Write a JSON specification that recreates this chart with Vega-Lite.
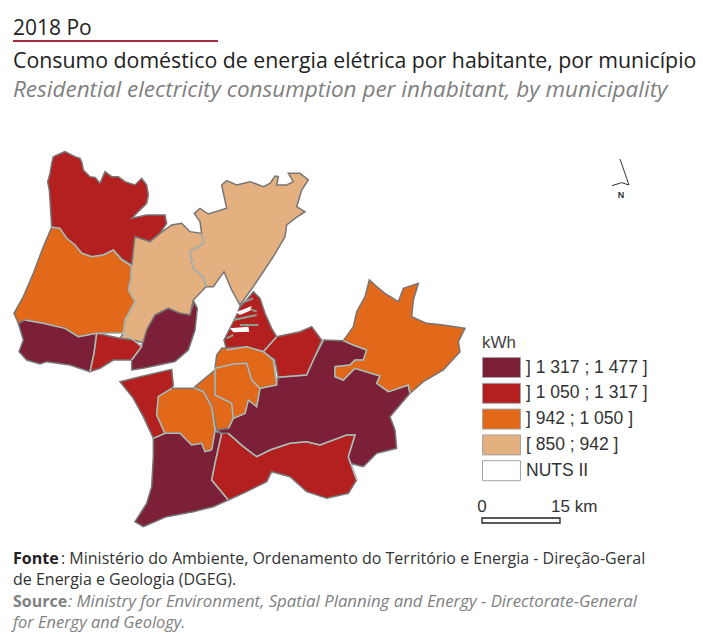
{"$schema":"https://vega.github.io/schema/vega-lite/v6.json","width":703,"height":634,"padding":0,"autosize":{"type":"none"},"background":"white","title":{"text":"Consumo doméstico de energia elétrica por habitante, por município","subtitle":"Residential electricity consumption per inhabitant, by municipality","anchor":"start","frame":"group","dx":13,"offset":-101,"font":"Open Sans","fontSize":21.3,"fontWeight":"normal","color":"#222222","subtitleFont":"Open Sans","subtitleFontSize":22.5,"subtitleFontStyle":"italic","subtitleColor":"#808080","subtitlePadding":6},"config":{"view":{"stroke":null}},"datasets":{"municipios":[
{"type":"Feature","properties":{"classe":"] 1 050 ; 1 317 ]"},"geometry":{"type":"Polygon","coordinates":[[[155,680],[148,570],[143,545],[150,520],[155,490],[160,470],[178,462],[195,455],[225,470],[240,475],[245,485],[250,510],[270,530],[285,532],[300,550],[315,515],[335,530],[355,530],[375,545],[405,555],[425,535],[440,555],[445,585],[440,610],[420,630],[395,655],[440,645],[495,645],[500,670],[480,700],[450,725],[405,710],[400,750],[395,795],[365,775],[340,750],[310,765],[275,770],[245,760],[225,735],[200,715],[180,685],[155,680]]]}},
{"type":"Feature","properties":{"classe":"] 942 ; 1 050 ]"},"geometry":{"type":"Polygon","coordinates":[[[155,682],[180,685],[200,715],[225,735],[245,760],[275,770],[310,765],[340,750],[365,780],[395,798],[392,840],[385,870],[405,905],[375,960],[370,1000],[290,1000],[235,1010],[195,985],[130,970],[75,960],[55,970],[42,940],[70,890],[100,820],[130,740],[155,682]]]}},
{"type":"Feature","properties":{"classe":"[ 850 ; 942 ]"},"geometry":{"type":"Polygon","coordinates":[[[405,710],[450,725],[480,700],[515,675],[545,670],[570,695],[605,700],[612,730],[570,755],[580,805],[610,830],[618,860],[580,900],[570,945],[540,940],[505,925],[465,945],[440,990],[435,1030],[400,1020],[360,1015],[370,1000],[375,960],[405,905],[385,870],[392,840],[395,798],[400,750],[405,710]]]}},
{"type":"Feature","properties":{"classe":"[ 850 ; 942 ]"},"geometry":{"type":"Polygon","coordinates":[[[605,700],[600,665],[583,640],[600,625],[625,642],[680,625],[665,555],[680,542],[710,555],[750,545],[790,560],[810,550],[825,528],[835,530],[830,555],[860,555],[880,545],[865,520],[900,520],[925,540],[905,570],[890,620],[915,635],[885,655],[860,675],[855,710],[820,770],[760,860],[720,915],[695,870],[672,815],[640,860],[618,860],[610,830],[580,805],[570,755],[612,730],[605,700]]]}},
{"type":"Feature","properties":{"classe":"] 1 317 ; 1 477 ]"},"geometry":{"type":"Polygon","coordinates":[[[75,960],[130,970],[195,985],[235,1010],[290,1000],[282,1060],[270,1115],[210,1095],[140,1085],[120,1092],[80,1080],[57,1055],[70,1020],[55,970],[75,960]]]}},
{"type":"Feature","properties":{"classe":"] 1 050 ; 1 317 ]"},"geometry":{"type":"Polygon","coordinates":[[[290,1000],[360,1015],[400,1020],[425,1040],[395,1080],[340,1080],[300,1105],[270,1115],[282,1060],[290,1000]]]}},
{"type":"Feature","properties":{"classe":"] 1 317 ; 1 477 ]"},"geometry":{"type":"Polygon","coordinates":[[[425,1040],[440,990],[465,945],[505,925],[540,940],[570,945],[582,905],[592,925],[585,990],[565,1050],[525,1085],[490,1092],[430,1105],[395,1110],[395,1080],[425,1040]]]}},
{"type":"Feature","properties":{"classe":"] 1 050 ; 1 317 ]"},"geometry":{"type":"Polygon","coordinates":[[[672,1020],[695,975],[710,945],[720,920],[740,900],[760,875],[780,895],[795,940],[815,985],[830,1010],[790,1055],[740,1040],[680,1050],[672,1020]]]}},
{"type":"Feature","properties":{"classe":"] 1 050 ; 1 317 ]"},"geometry":{"type":"Polygon","coordinates":[[[830,1010],[900,995],[935,980],[965,1020],[940,1080],[920,1125],[835,1132],[825,1080],[790,1055],[830,1010]]]}},
{"type":"Feature","properties":{"classe":"] 942 ; 1 050 ]"},"geometry":{"type":"Polygon","coordinates":[[[645,1105],[650,1065],[665,1045],[740,1040],[790,1055],[820,1080],[830,1155],[780,1165],[755,1140],[740,1090],[700,1092],[660,1105],[645,1105]]]}},
{"type":"Feature","properties":{"classe":"] 942 ; 1 050 ]"},"geometry":{"type":"Polygon","coordinates":[[[645,1105],[700,1092],[740,1090],[755,1140],[780,1165],[770,1220],[745,1200],[735,1240],[700,1255],[695,1210],[645,1185],[645,1160],[645,1105]]]}},
{"type":"Feature","properties":{"classe":"] 942 ; 1 050 ]"},"geometry":{"type":"Polygon","coordinates":[[[585,1160],[645,1110],[645,1185],[695,1210],[700,1255],[685,1285],[650,1290],[635,1215],[610,1175],[585,1160]]]}},
{"type":"Feature","properties":{"classe":"] 942 ; 1 050 ]"},"geometry":{"type":"Polygon","coordinates":[[[475,1190],[515,1165],[585,1165],[610,1175],[635,1220],[645,1290],[635,1350],[615,1355],[605,1330],[575,1335],[540,1300],[495,1300],[470,1245],[475,1190]]]}},
{"type":"Feature","properties":{"classe":"] 1 050 ; 1 317 ]"},"geometry":{"type":"Polygon","coordinates":[[[360,1145],[420,1130],[515,1108],[520,1155],[515,1165],[475,1190],[470,1245],[495,1300],[460,1315],[430,1250],[400,1195],[360,1145]]]}},
{"type":"Feature","properties":{"classe":"] 1 317 ; 1 477 ]"},"geometry":{"type":"Polygon","coordinates":[[[460,1315],[495,1300],[540,1300],[575,1335],[605,1330],[615,1355],[635,1350],[645,1295],[665,1300],[645,1390],[635,1440],[685,1500],[640,1520],[580,1535],[500,1550],[430,1580],[405,1565],[440,1510],[455,1460],[460,1370],[460,1315]]]}},
{"type":"Feature","properties":{"classe":"] 1 050 ; 1 317 ]"},"geometry":{"type":"Polygon","coordinates":[[[665,1300],[685,1300],[730,1340],[770,1370],[810,1350],[870,1330],[920,1325],[960,1335],[1040,1305],[1065,1305],[1045,1370],[1070,1440],[1045,1480],[980,1495],[920,1475],[870,1430],[815,1415],[800,1445],[740,1475],[685,1500],[635,1440],[645,1390],[665,1300]]]}},
{"type":"Feature","properties":{"classe":"] 1 317 ; 1 477 ]"},"geometry":{"type":"Polygon","coordinates":[[[685,1300],[665,1300],[650,1290],[685,1285],[700,1255],[735,1240],[745,1200],[770,1220],[780,1165],[830,1155],[835,1132],[920,1125],[940,1080],[970,1020],[1030,1022],[1060,1035],[1100,1050],[1090,1080],[1065,1080],[1050,1095],[1005,1100],[1005,1130],[1030,1140],[1065,1105],[1140,1128],[1130,1150],[1165,1175],[1225,1155],[1230,1180],[1170,1250],[1185,1290],[1190,1345],[1130,1360],[1090,1400],[1050,1390],[1045,1370],[1065,1305],[1040,1305],[960,1335],[920,1325],[870,1330],[810,1350],[770,1370],[730,1340],[685,1300]]]}},
{"type":"Feature","properties":{"classe":"] 942 ; 1 050 ]"},"geometry":{"type":"Polygon","coordinates":[[[1030,1022],[1060,980],[1070,935],[1095,890],[1108,840],[1130,860],[1155,880],[1195,905],[1210,865],[1255,850],[1240,900],[1235,950],[1280,970],[1330,975],[1395,985],[1375,1025],[1380,1055],[1330,1110],[1270,1145],[1230,1180],[1225,1155],[1165,1175],[1130,1150],[1140,1128],[1065,1105],[1030,1140],[1005,1130],[1005,1100],[1050,1095],[1065,1080],[1090,1080],[1100,1050],[1060,1035],[1030,1022]]]}}
],"limites":[
{"type":"Feature","properties":{"nome":"a"},"geometry":{"type":"MultiLineString","coordinates":[
[[155,682],[180,685],[200,715],[225,735],[245,760],[275,770],[310,765],[340,750],[365,780],[395,798],[392,840],[385,870],[405,905],[375,960],[370,1000]],
[[75,960],[130,970],[195,985],[235,1010],[290,1000],[370,1000],[400,1020],[425,1040],[395,1080]],
[[290,1000],[282,1060],[270,1115]],
[[605,700],[612,730],[570,755],[580,805],[610,830],[618,860]],
[[680,1050],[740,1040],[790,1055],[820,1080],[830,1155],[780,1165],[755,1140],[740,1090],[700,1092],[645,1105],[645,1185],[695,1210],[700,1255],[685,1285]],
[[755,1140],[780,1165],[770,1220],[745,1200],[735,1240],[700,1255]],
[[585,1165],[610,1175],[635,1220],[645,1290],[635,1350]],
[[515,1165],[475,1190],[470,1245],[495,1300],[460,1315]],
[[495,1300],[540,1300],[575,1335],[605,1330],[615,1355],[635,1350]],
[[665,1300],[645,1390],[635,1440],[685,1500]],
[[685,1300],[730,1340],[770,1370],[810,1350],[870,1330],[920,1325],[960,1335],[1040,1305],[1065,1305],[1045,1370],[1070,1440]],
[[835,1132],[920,1125],[940,1080],[970,1020]],
[[1030,1022],[1060,1035],[1100,1050],[1090,1080],[1065,1080],[1050,1095],[1005,1100],[1005,1130],[1030,1140],[1065,1105],[1140,1128],[1130,1150],[1165,1175],[1225,1155],[1230,1180]],
[[830,1010],[790,1055]]
]}}
],"estuario":[
{"type":"Feature","properties":{"nome":"braço norte"},"geometry":{"type":"Polygon","coordinates":[[[708,937],[755,918],[750,932],[720,945],[708,937]]]}},
{"type":"Feature","properties":{"nome":"braço sul"},"geometry":{"type":"Polygon","coordinates":[[[690,985],[745,980],[748,995],[700,997],[690,985]]]}}
],"ilhas":[
{"type":"Feature","properties":{"nome":"ilhas"},"geometry":{"type":"MultiLineString","coordinates":[[[735,905],[760,895]],[[700,960],[770,945]],[[720,975],[775,975]],[[680,1015],[700,1005]],[[745,925],[770,935]]]}}
],"escala":[
{"type":"Feature","properties":{"nome":"15 km"},"geometry":{"type":"Polygon","coordinates":[[[1446,1554],[1680,1554],[1680,1569],[1446,1569],[1446,1554]]]}}
],"norte":[
{"type":"Feature","properties":{"nome":"N"},"geometry":{"type":"LineString","coordinates":[[1860,477],[1887,555],[1865,548],[1836,557]]}}
]},"layer":[
{"data":{"name":"municipios"},"projection":{"type":"identity","scale":0.333333,"translate":[0,0]},"mark":{"type":"geoshape","stroke":"#767676","strokeWidth":1.5},"encoding":{"color":{"field":"properties.classe","type":"nominal","title":"kWh","scale":{"domain":["] 1 317 ; 1 477 ]","] 1 050 ; 1 317 ]","] 942 ; 1 050 ]","[ 850 ; 942 ]","NUTS II"],"range":["#7c2038","#b3201f","#e2681a","#e5b07f","#ffffff"]},"legend":{"orient":"none","legendX":482,"legendY":335,"titleFont":"Liberation Sans","titleFontSize":17,"titleFontWeight":"normal","titleColor":"#444444","titlePadding":5,"labelFont":"Liberation Sans","labelFontSize":17.5,"labelColor":"#333333","labelOffset":23,"symbolType":"M-1,-1H2.8V1H-1Z","symbolSize":400,"symbolStrokeColor":"#a5a5a5","symbolStrokeWidth":1,"symbolOpacity":1,"rowPadding":0.8,"padding":0}}}},
{"data":{"name":"limites"},"projection":{"type":"identity","scale":0.333333,"translate":[0,0]},"mark":{"type":"geoshape","filled":false,"stroke":"#b3bcb4","strokeWidth":1.5}},
{"data":{"name":"ilhas"},"projection":{"type":"identity","scale":0.333333,"translate":[0,0]},"mark":{"type":"geoshape","filled":false,"stroke":"#8d9e8e","strokeWidth":2}},
{"data":{"name":"estuario"},"projection":{"type":"identity","scale":0.333333,"translate":[0,0]},"mark":{"type":"geoshape","fill":"#ffffff","stroke":null}},
{"data":{"name":"escala"},"projection":{"type":"identity","scale":0.333333,"translate":[0,0]},"mark":{"type":"geoshape","fill":"#ffffff","stroke":"#222222","strokeWidth":1.3}},
{"data":{"name":"norte"},"projection":{"type":"identity","scale":0.333333,"translate":[0,0]},"mark":{"type":"geoshape","filled":false,"stroke":"#333333","strokeWidth":1}},
{"data":{"values":[{}]},"mark":{"type":"rule","stroke":"#a8283f","strokeWidth":2},"encoding":{"x":{"value":13},"x2":{"value":218},"y":{"value":41}}},
{"data":{"values":[{"t":"2018 Po"}]},"mark":{"type":"text","x":13,"y":29,"align":"left","font":"Open Sans","fontSize":21,"color":"#222222"},"encoding":{"text":{"field":"t"}}},
{"data":{"values":[{"t":"N"}]},"mark":{"type":"text","x":621,"y":195,"align":"center","font":"Liberation Sans","fontSize":9,"fontWeight":"bold","color":"#333333"},"encoding":{"text":{"field":"t"}}},
{"data":{"values":[{"t":"0"}]},"mark":{"type":"text","x":482,"y":507,"align":"center","font":"Liberation Sans","fontSize":17,"color":"#333333"},"encoding":{"text":{"field":"t"}}},
{"data":{"values":[{"t":"15  km"}]},"mark":{"type":"text","x":551,"y":507,"align":"left","font":"Liberation Sans","fontSize":17,"color":"#333333"},"encoding":{"text":{"field":"t"}}},
{"data":{"values":[{"t":"Fonte"}]},"mark":{"type":"text","x":13,"y":559,"align":"left","font":"Open Sans","fontSize":16,"fontWeight":"bold","color":"#222222"},"encoding":{"text":{"field":"t"}}},
{"data":{"values":[{"t":": Ministério do Ambiente, Ordenamento do Território e Energia - Direção-Geral"}]},"mark":{"type":"text","x":61,"y":559,"align":"left","font":"Open Sans","fontSize":16,"color":"#333333"},"encoding":{"text":{"field":"t"}}},
{"data":{"values":[{"t":"de Energia e Geologia (DGEG)."}]},"mark":{"type":"text","x":13,"y":580,"align":"left","font":"Open Sans","fontSize":16,"color":"#333333"},"encoding":{"text":{"field":"t"}}},
{"data":{"values":[{"t":"Source"}]},"mark":{"type":"text","x":13,"y":602,"align":"left","font":"Open Sans","fontSize":16,"fontWeight":"bold","color":"#808080"},"encoding":{"text":{"field":"t"}}},
{"data":{"values":[{"t":": Ministry for Environment, Spatial Planning and Energy - Directorate-General"}]},"mark":{"type":"text","x":68,"y":602,"align":"left","font":"Open Sans","fontSize":16.8,"fontStyle":"italic","color":"#808080"},"encoding":{"text":{"field":"t"}}},
{"data":{"values":[{"t":"for Energy and Geology."}]},"mark":{"type":"text","x":13,"y":623,"align":"left","font":"Open Sans","fontSize":16.4,"fontStyle":"italic","color":"#808080"},"encoding":{"text":{"field":"t"}}}
]}
